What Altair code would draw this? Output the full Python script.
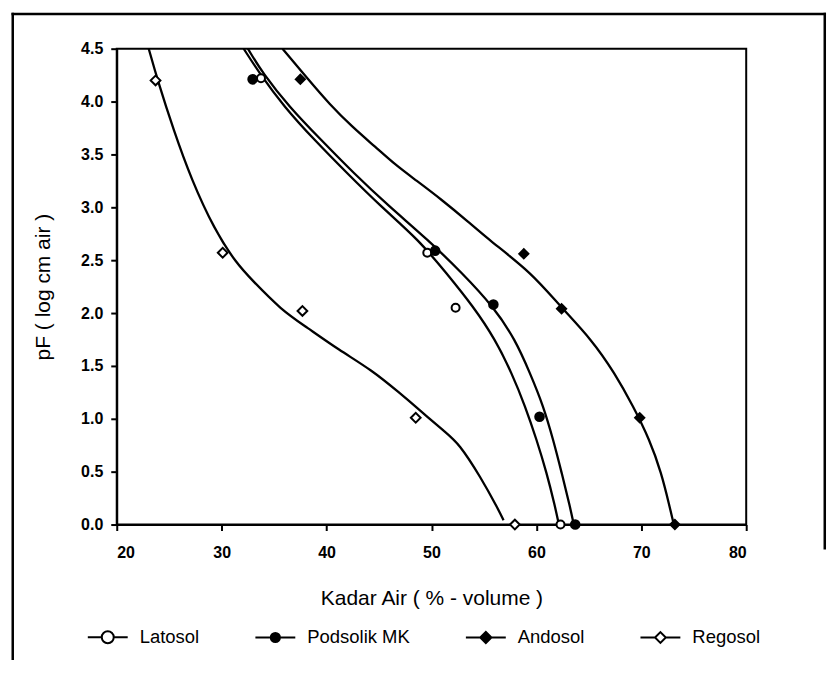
import altair as alt
import pandas as pd

# ---------------- data ----------------
soils = ["Latosol", "Podsolik MK", "Andosol", "Regosol"]

# measured points (Kadar Air %, pF)
lat_x = [33.75, 49.6, 52.3, 62.3]
lat_pf = [4.22, 2.57, 2.05, 0.0]
pod_x = [32.95, 50.35, 55.9, 60.3, 63.7]
pod_pf = [4.21, 2.59, 2.08, 1.02, 0.0]
and_x = [37.5, 58.8, 62.4, 69.85, 73.2]
and_pf = [4.21, 2.56, 2.04, 1.01, 0.0]
reg_x = [23.7, 30.1, 37.7, 48.5, 57.95]
reg_pf = [4.2, 2.57, 2.02, 1.01, 0.0]

# fitted curves
lat_curve_pf = [4.5, 4.27, 3.95, 3.64, 3.32, 3.01, 2.69, 2.38, 2.06, 1.75, 1.43, 1.12, 0.80, 0.49, 0.17, 0.02]
lat_curve_x = [32.1, 33.59, 35.96, 38.81, 41.98, 45.15, 48.8, 51.4, 54.0, 56.08, 57.66, 58.93, 60.03, 60.98, 61.78, 62.1]
pod_curve_pf = [4.5, 4.27, 3.95, 3.64, 3.32, 3.01, 2.69, 2.38, 2.06, 1.75, 1.43, 1.12, 0.80, 0.49, 0.17, 0.02]
pod_curve_x = [32.5, 33.9, 36.44, 39.45, 42.61, 45.94, 49.7, 52.9, 55.91, 57.98, 59.40, 60.67, 61.61, 62.41, 63.20, 63.52]
and_curve_pf = [4.5, 4.2, 3.98, 3.76, 3.57, 3.40, 3.26, 3.07, 2.86, 2.69, 2.38, 2.06, 1.75, 1.43, 1.12, 0.80, 0.49, 0.17, 0.0]
and_curve_x = [35.8, 38.34, 40.24, 42.45, 44.67, 46.57, 48.47, 51.0, 53.54, 55.5, 59.56, 62.3, 65.26, 67.48, 69.22, 70.80, 71.91, 72.70, 73.1]
reg_curve_pf = [4.5, 4.2, 3.73, 3.26, 2.79, 2.47, 2.31, 2.03, 1.87, 1.65, 1.46, 1.25, 1.09, 0.87, 0.77, 0.45, 0.14, 0.04]
reg_curve_x = [23.05, 23.9, 25.42, 27.13, 29.31, 31.4, 32.92, 35.68, 38.05, 41.19, 44.32, 46.89, 48.79, 51.35, 52.59, 54.68, 56.39, 56.87]

x_ticks = [20, 30, 40, 50, 60, 70, 80]
y_ticks = [0.0, 0.5, 1.0, 1.5, 2.0, 2.5, 3.0, 3.5, 4.0, 4.5]

x_title = "Kadar Air ( % - volume )"
y_title = "pF ( log cm air )"

# ---------------- tables ----------------
pt_rows = []
for s, xs, ps in zip(soils, [lat_x, pod_x, and_x, reg_x], [lat_pf, pod_pf, and_pf, reg_pf]):
    for xv, pv in zip(xs, ps):
        pt_rows.append({"soil": s, "x": xv, "pf": pv})
pts = pd.DataFrame(pt_rows)

cv_rows = []
for s, xs, ps in zip(soils, [lat_curve_x, pod_curve_x, and_curve_x, reg_curve_x],
                     [lat_curve_pf, pod_curve_pf, and_curve_pf, reg_curve_pf]):
    for i, (xv, pv) in enumerate(zip(xs, ps)):
        cv_rows.append({"soil": s, "i": i, "x": xv, "pf": pv})
curves = pd.DataFrame(cv_rows)

# ---------------- styles ----------------
FONT = "Liberation Sans"
W, H = 631, 477


def circle(r):
    return f"M{r},0A{r},{r},0,1,1,{-r},0A{r},{r},0,1,1,{r},0Z"


def diamond(r):
    return f"M{-r},0L0,{-r}L{r},0L0,{r}Z"


leg_paths = [
    "M-1,0L-0.3,0M0.3,0L1,0" + circle(0.3),
    "M-1,0L1,0" + circle(0.23) + circle(0.14) + circle(0.05),
    "M-1,0L1,0" + diamond(0.28) + diamond(0.17) + diamond(0.06),
    "M-1,0L-0.27,0M0.27,0L1,0" + diamond(0.27),
]

x_scale = alt.Scale(domain=[20, 80], nice=False, zero=False)
y_scale = alt.Scale(domain=[0, 4.5], nice=False, zero=False)

x_axis = alt.Axis(values=x_ticks, format="d", title=x_title, labelPadding=14, titlePadding=27)
y_axis = alt.Axis(values=y_ticks, format=".1f", title=y_title, labelPadding=8, titlePadding=27)

lines = alt.Chart(curves).mark_line(
    color="black", strokeWidth=2.3, interpolate="basis"
).encode(
    x=alt.X("x:Q", scale=x_scale, axis=x_axis),
    y=alt.Y("pf:Q", scale=y_scale, axis=y_axis),
    detail="soil:N",
    order=alt.Order("i:Q"),
)

points = alt.Chart(pts).mark_point(
    filled=False, stroke="black", strokeWidth=2, opacity=1
).encode(
    x=alt.X("x:Q", scale=x_scale),
    y=alt.Y("pf:Q", scale=y_scale),
    shape=alt.Shape("soil:N", scale=alt.Scale(domain=soils, range=["circle", "circle", "diamond", "diamond"]), legend=None),
    fill=alt.Fill("soil:N", scale=alt.Scale(domain=soils, range=["white", "black", "black", "white"]), legend=None),
    size=alt.Size("soil:N", scale=alt.Scale(domain=soils, range=[64, 95, 100, 70]), legend=None),
)

legend_layer = alt.Chart(pts).transform_filter("datum.x < 0").mark_point(
    filled=False, color="black", strokeWidth=2
).encode(
    x=alt.X("x:Q", scale=x_scale),
    y=alt.Y("pf:Q", scale=y_scale),
    shape=alt.Shape(
        "soil:N",
        scale=alt.Scale(domain=soils, range=leg_paths),
        legend=alt.Legend(
            title=None, orient="none", legendX=-30, legendY=569,
            direction="horizontal", columns=4, columnPadding=52,
            symbolSize=1600, symbolStrokeWidth=2, symbolStrokeColor="black",
            symbolOpacity=1, labelFont=FONT, labelFontSize=18.5, labelColor="black",
            labelOffset=11, padding=0,
        ),
    ),
)

frame_df = pd.DataFrame({"k": [0]})
frame_left = alt.Chart(frame_df).mark_rect(color="black").encode(
    x=alt.value(-105.5), x2=alt.value(-103), y=alt.value(-36), y2=alt.value(H + 140)
)
frame_top = alt.Chart(frame_df).mark_rect(color="black").encode(
    x=alt.value(-105.5), x2=alt.value(711), y=alt.value(-36), y2=alt.value(-33.5)
)
frame_right = alt.Chart(frame_df).mark_rect(color="black").encode(
    x=alt.value(708.5), x2=alt.value(711), y=alt.value(-36), y2=alt.value(502)
)

chart = alt.layer(
    frame_left, frame_top, frame_right, lines, points, legend_layer
).resolve_scale(
    shape="independent", fill="independent", size="independent"
).properties(
    width=W, height=H,
    autosize=alt.AutoSizeParams(type="none"),
    padding={"left": 109, "top": 40, "right": 85, "bottom": 135},
    background="white",
).configure_view(
    stroke="black", strokeWidth=2
).configure_axis(
    grid=False, domainColor="black", domainWidth=2, tickColor="black", tickWidth=2,
    tickSize=6, labelFont=FONT, labelFontSize=16, labelFontWeight="bold",
    labelColor="black", titleFont=FONT, titleFontSize=21, titleFontWeight="normal",
    titleColor="black",
)

chart.save("out.html", embed_options={"renderer": "svg", "actions": False})
